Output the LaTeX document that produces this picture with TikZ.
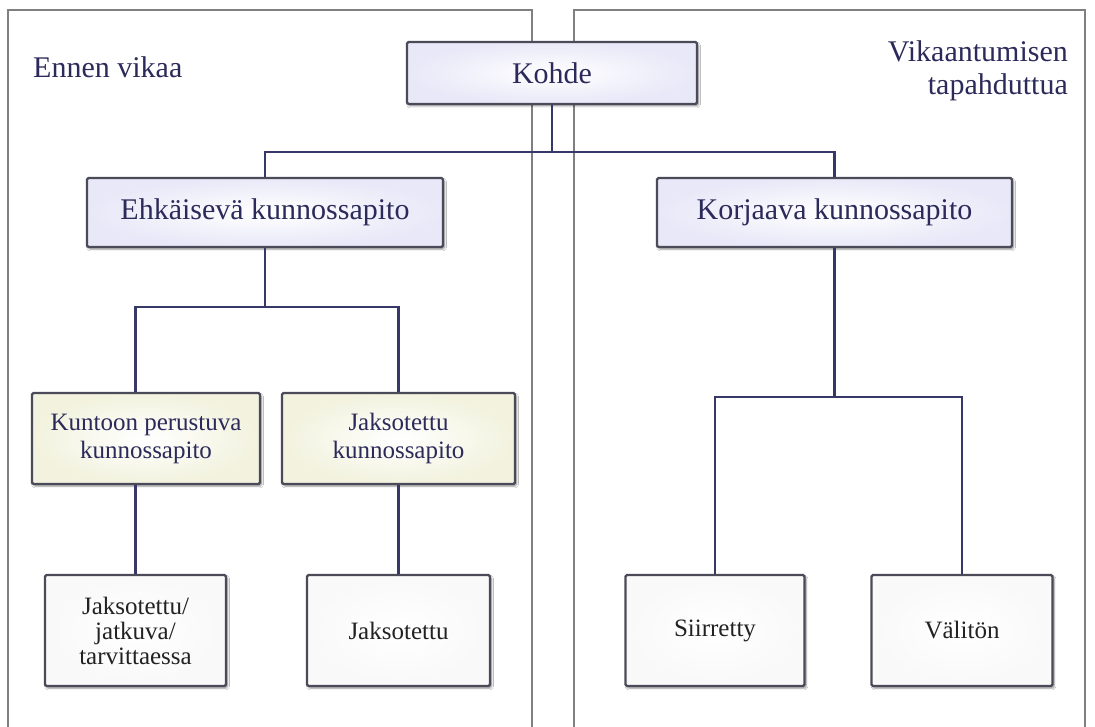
\documentclass[tikz,border=0pt]{standalone}
\usepackage{fontspec}
\setmainfont{Liberation Serif}
\usetikzlibrary{shadows.blur}
\definecolor{navy}{HTML}{2B2A5A}
\definecolor{conncol}{HTML}{383868}
\definecolor{boxline}{HTML}{4A4A58}
\definecolor{lav}{HTML}{E8E8F8}
\definecolor{cream}{HTML}{F2F2DE}
\definecolor{panelline}{HTML}{808080}
\definecolor{darktext}{HTML}{222222}
\tikzset{
  panel/.style={draw=panelline, line width=2pt, fill=white},
  boxbase/.style={draw=boxline, line width=2.4pt, rounded corners=1.5pt,
    blur shadow={shadow xshift=1.5pt, shadow yshift=-2pt, shadow blur steps=6, shadow opacity=45},
    align=center, inner sep=2pt},
  topbox/.style={boxbase, inner color=white, outer color=lav, text=navy,
    font=\fontsize{30}{32}\selectfont},
  midbox/.style={boxbase, inner color=white, outer color=cream, text=navy,
    font=\fontsize{25}{28}\selectfont},
  lowbox/.style={boxbase, inner color=white, outer color=white!95!gray, text=darktext,
    font=\fontsize{25}{25}\selectfont},
  conn/.style={draw=conncol, line width=2.4pt},
  lbl/.style={text=navy, font=\fontsize{30}{33}\selectfont, inner sep=0pt}
}
\begin{document}
\begin{tikzpicture}[x=1pt,y=-1pt]
\useasboundingbox (0,0) rectangle (1095,727);
% panels
\draw[panel] (8,10) rectangle (532,745);
\draw[panel] (574,10) rectangle (1085,745);
% labels
\node[lbl, anchor=west] (ennen) at (33,67) {Ennen vikaa};
\node[lbl, anchor=east, align=right] (vika) at (1068,71) {Vikaantumisen\\tapahduttua};
% bus points
\coordinate (bus1) at (552,152);
\coordinate (bus2) at (265,307);
\coordinate (bus3) at (834.5,397);
% nodes
\node[topbox, minimum width=290pt, minimum height=62pt] (kohde) at (552,73) {Kohde};
\node[topbox, minimum width=356pt, minimum height=69pt] (ehk) at (265,212.5) {Ehkäisevä kunnossapito};
\node[topbox, minimum width=355pt, minimum height=69pt] (korj) at (834.5,212.5) {Korjaava kunnossapito};
\node[midbox, minimum width=228pt, minimum height=91pt] (kunt) at (146,438.5) {Kuntoon perustuva\\kunnossapito};
\node[midbox, minimum width=233pt, minimum height=91pt] (jaks) at (398.5,438.5) {Jaksotettu\\kunnossapito};
\node[lowbox, minimum width=181pt, minimum height=111pt] (jjt) at (135.5,630.5) {Jaksotettu/\\jatkuva/\\tarvittaessa};
\node[lowbox, minimum width=183pt, minimum height=111pt] (jak) at (398.5,630.5) {Jaksotettu};
\node[lowbox, minimum width=179pt, minimum height=111pt] (siir) at (715,630.5) {Siirretty};
\node[lowbox, minimum width=181pt, minimum height=111pt] (val) at (962,630.5) {Välitön};
% connectors
\draw[conn] (kohde.south) -- (bus1);
\draw[conn] (ehk.north) -- (ehk.north |- bus1) -- (korj.north |- bus1) -- (korj.north);
\draw[conn] (ehk.south) -- (bus2);
\draw[conn] (jjt.north |- kunt.north) |- (bus2) -| (jaks.north);
\draw[conn] (jjt.north |- kunt.south) -- (jjt.north);
\draw[conn] (jaks.south) -- (jak.north);
\draw[conn] (korj.south) -- (bus3);
\draw[conn] (siir.north) |- (bus3) -| (val.north);
\end{tikzpicture}
\end{document}
